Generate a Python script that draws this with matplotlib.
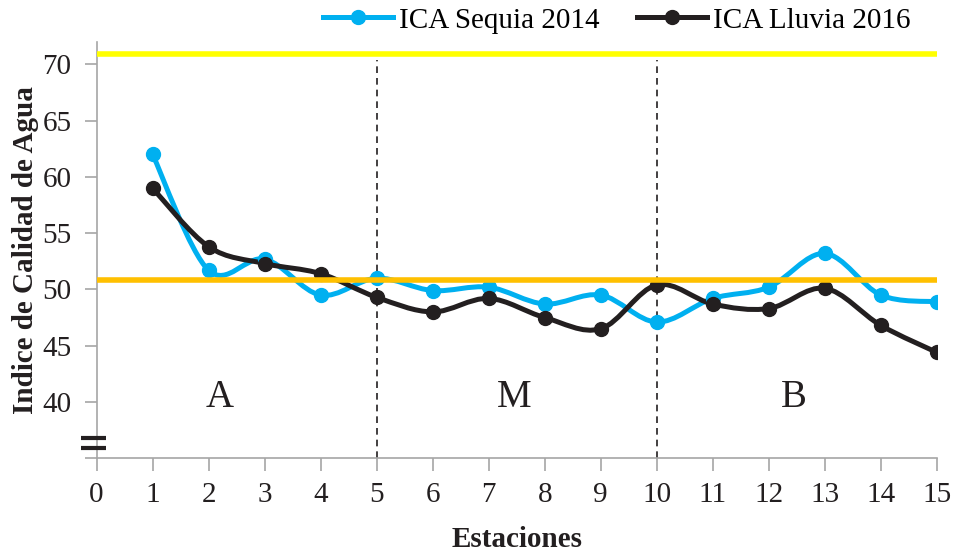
import numpy as np
import matplotlib
matplotlib.use("Agg")
import matplotlib.pyplot as plt
from matplotlib.path import Path
from matplotlib.patches import PathPatch
from matplotlib.lines import Line2D

plt.rcParams['font.family'] = ['Liberation Serif', 'DejaVu Serif']

estaciones = [1, 2, 3, 4, 5, 6, 7, 8, 9, 10, 11, 12, 13, 14, 15]
ica_sequia_2014 = [62.0, 51.7, 52.7, 49.5, 51.0, 49.9, 50.2, 48.7, 49.5, 47.1, 49.2, 50.2, 53.2, 49.5, 48.9]
ica_lluvia_2016 = [59.0, 53.8, 52.3, 51.4, 49.3, 48.0, 49.2, 47.5, 46.5, 50.4, 48.7, 48.3, 50.1, 46.8, 44.4]
limite_alto = 70.9
limite_medio = 50.8
divisiones = [5, 10]
zonas = ['A', 'M', 'B']
zonas_x = [2.2, 7.45, 12.45]
zonas_y = 40.4

azul = '#00B0F0'
negro = '#231F20'


def smooth_path(x, y):
    # Excel-style smoothed line: cubic bezier through every point
    p = np.column_stack([x, y]).astype(float)
    n = len(p)
    verts = [p[0]]
    codes = [Path.MOVETO]
    for i in range(n - 1):
        p0 = p[i - 1] if i > 0 else p[i]
        p3 = p[i + 2] if i + 2 < n else p[i + 1]
        c1 = p[i] + (p[i + 1] - p0) / 6.0
        c2 = p[i + 1] - (p3 - p[i]) / 6.0
        verts += [c1, c2, p[i + 1]]
        codes += [Path.CURVE4] * 3
    return Path(verts, codes)


fig = plt.figure(figsize=(9.56, 5.52), dpi=100)
ax = fig.add_axes([0.101, 0.170, 0.879, 0.754])

for serie, color in [(ica_sequia_2014, azul), (ica_lluvia_2016, negro)]:
    ax.add_patch(PathPatch(smooth_path(estaciones, serie), fill=False,
                           edgecolor=color, lw=3.6, zorder=3,
                           capstyle='round', joinstyle='round'))
    ax.plot(estaciones, serie, 'o', color=color, ms=10, zorder=4)

ax.axhline(limite_alto, color='#FFFF00', lw=4, zorder=5)
ax.axhline(limite_medio, color='#FFC000', lw=4, zorder=5)
ax.vlines(divisiones, 35, limite_alto - 0.5, colors=negro, linestyles=(0, (4, 3)), lw=1.2, zorder=2)

for letra, xz in zip(zonas, zonas_x):
    ax.text(xz, zonas_y, letra, fontsize=28, ha='center', va='center', color=negro)

ax.set_xlim(0, 15)
ax.set_ylim(35, 72)
ax.set_xticks(range(0, 16))
ax.set_yticks(range(35, 71, 5))
ax.set_yticklabels([''] + [str(v) for v in range(40, 71, 5)])
ax.tick_params(axis='both', labelsize=21, colors='#a6a6a6', labelcolor=negro,
               length=9, width=1.2, direction='out')
ax.tick_params(axis='x', pad=8)
ax.tick_params(axis='y', pad=9)
for s in ['top', 'right']:
    ax.spines[s].set_visible(False)
for s in ['left', 'bottom']:
    ax.spines[s].set_color('#a6a6a6')
    ax.spines[s].set_linewidth(1.2)

# axis break marker
for yb in [36.8, 35.9]:
    ax.plot([-0.27, 0.16], [yb, yb], color=negro, lw=3, clip_on=False, zorder=6,
            solid_capstyle='butt')

ax.set_xlabel('Estaciones', fontsize=21, fontweight='bold', color=negro)
ax.xaxis.set_label_coords(0.5, -0.163)
ax.set_ylabel('Indice de Calidad de Agua', fontsize=21, fontweight='bold', color=negro)
ax.yaxis.set_label_coords(-0.068, 0.5)

handles = [Line2D([], [], color=azul, lw=3.6, marker='o', ms=10),
           Line2D([], [], color=negro, lw=3.6, marker='o', ms=10)]
fig.legend(handles, ['ICA Sequia 2014', 'ICA Lluvia 2016'], loc='center',
           bbox_to_anchor=(0.645, 0.963), ncol=2, frameon=False, fontsize=21,
           handlelength=2.4, handletextpad=0.2, columnspacing=1.3)

fig.savefig('out.png', dpi=100)
